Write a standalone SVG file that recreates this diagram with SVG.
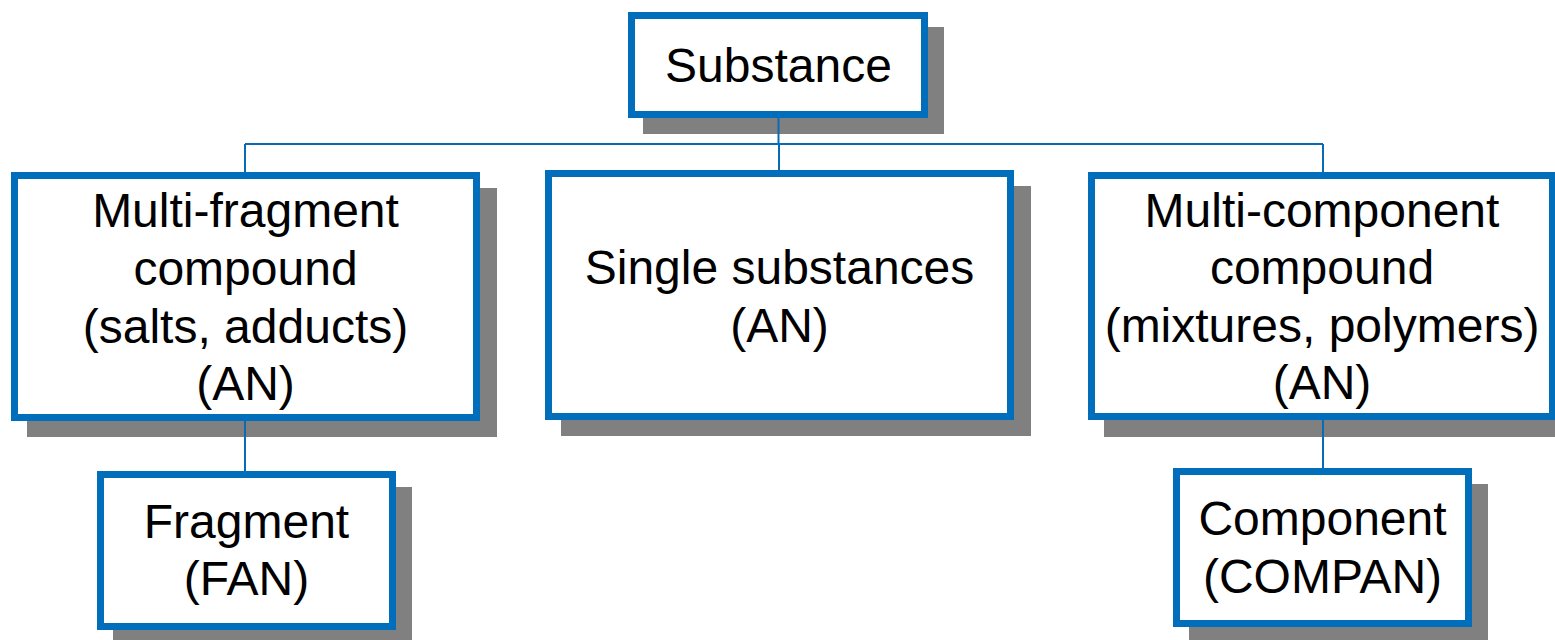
<svg xmlns="http://www.w3.org/2000/svg" width="1555" height="640" viewBox="0 0 1555 640">
  <style>
    .shadow { fill: #808080; }
    .box { fill: #ffffff; stroke: #006EBA; stroke-width: 7; }
    .lbl { font-family: "Liberation Sans", Arial, sans-serif; font-size: 48px; fill: #000000; text-anchor: middle; }
    .conn { fill: none; stroke: #0A6BB5; stroke-width: 2; }
  </style>
  <rect width="1555" height="640" fill="#ffffff"/>
  <g id="node-substance">
    <rect class="shadow" x="643" y="27" width="301" height="107"/>
    <rect class="box" x="631.5" y="15.5" width="293" height="99"/>
    <text class="lbl" x="778.5" y="82">Substance</text>
  </g>
  <g id="node-multi-fragment">
    <rect class="shadow" x="27" y="188" width="470" height="249"/>
    <rect class="box" x="14.5" y="175.5" width="462" height="242"/>
    <text class="lbl" x="245.5" y="227">Multi-fragment</text>
    <text class="lbl" x="245.5" y="285">compound</text>
    <text class="lbl" x="245.5" y="343">(salts, adducts)</text>
    <text class="lbl" x="245.5" y="400">(AN)</text>
  </g>
  <g id="node-single">
    <rect class="shadow" x="561" y="186" width="470" height="250"/>
    <rect class="box" x="548.5" y="173.5" width="462" height="243"/>
    <text class="lbl" x="779.5" y="284">Single substances</text>
    <text class="lbl" x="779.5" y="342">(AN)</text>
  </g>
  <g id="node-multi-component">
    <rect class="shadow" x="1104" y="188" width="470" height="249"/>
    <rect class="box" x="1091.5" y="175.5" width="461" height="241"/>
    <text class="lbl" x="1322" y="227">Multi-component</text>
    <text class="lbl" x="1322" y="284">compound</text>
    <text class="lbl" x="1322" y="342">(mixtures, polymers)</text>
    <text class="lbl" x="1322" y="399">(AN)</text>
  </g>
  <g id="node-fragment">
    <rect class="shadow" x="113" y="487" width="299" height="160"/>
    <rect class="box" x="100.5" y="474.5" width="292" height="152"/>
    <text class="lbl" x="246.5" y="538">Fragment</text>
    <text class="lbl" x="246.5" y="595">(FAN)</text>
  </g>
  <g id="node-component">
    <rect class="shadow" x="1189" y="484" width="299" height="160"/>
    <rect class="box" x="1176.5" y="471.5" width="292" height="152"/>
    <text class="lbl" x="1322.5" y="535">Component</text>
    <text class="lbl" x="1322.5" y="593">(COMPAN)</text>
  </g>
  <g id="connectors">
    <path class="conn" d="M778.5 118 V144"/>
    <path class="conn" d="M245 144 H1323"/>
    <path class="conn" d="M245 144 V172"/>
    <path class="conn" d="M779 144 V170"/>
    <path class="conn" d="M1323 144 V172"/>
    <path class="conn" d="M245 421 V471"/>
    <path class="conn" d="M1323 420 V468"/>
  </g>
</svg>
